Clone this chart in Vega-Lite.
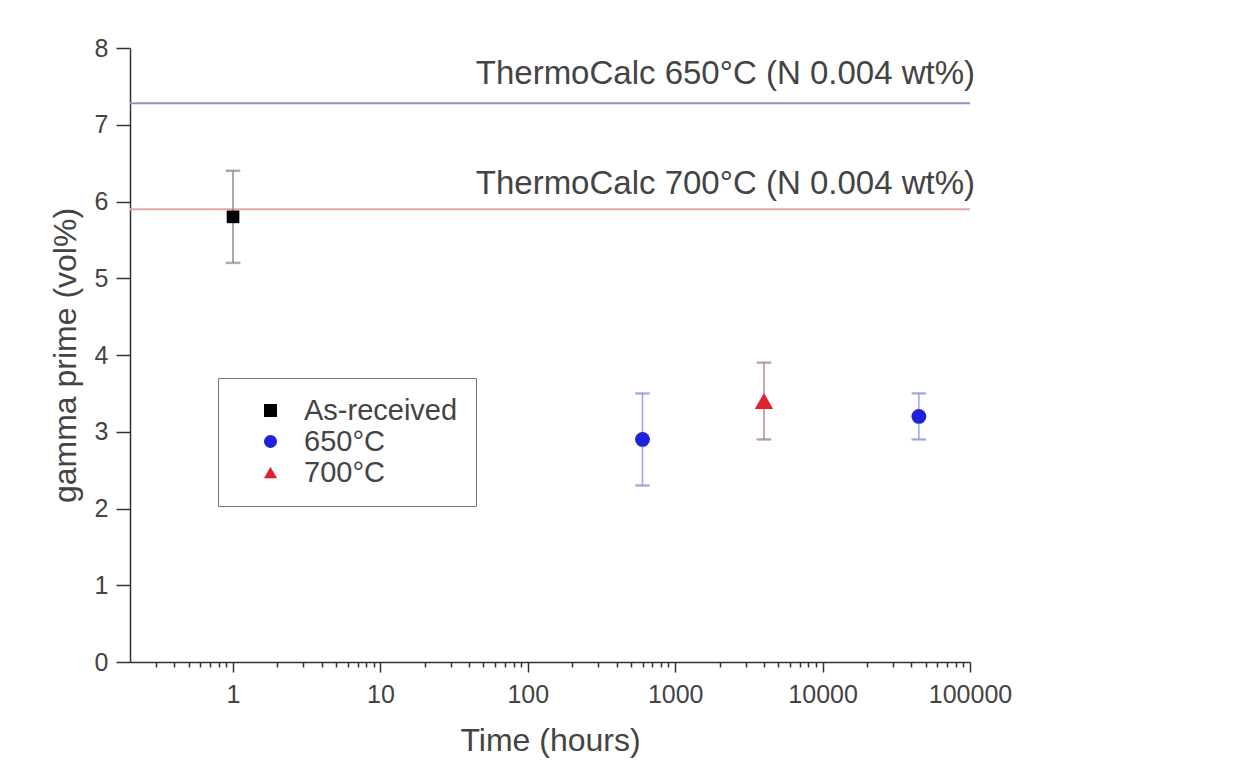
{
  "$schema": "https://vega.github.io/schema/vega-lite/v6.json",
  "width": 840,
  "height": 614,
  "autosize": {"type": "none"},
  "padding": {"left": 130, "top": 48, "right": 267, "bottom": 118},
  "background": "white",
  "config": {
    "view": {"stroke": null},
    "font": "Liberation Sans",
    "axis": {
      "domainColor": "#333333",
      "domainWidth": 1.5,
      "tickColor": "#333333",
      "tickWidth": 1.5,
      "labelColor": "#444444",
      "titleColor": "#444444",
      "titleFontWeight": "normal",
      "labelFont": "Liberation Sans",
      "titleFont": "Liberation Sans",
      "grid": false
    }
  },
  "datasets": {
    "points": [
      {"series": "As-received", "time": 1, "gp": 5.8, "lo": 5.2, "hi": 6.4},
      {"series": "650°C", "time": 600, "gp": 2.9, "lo": 2.3, "hi": 3.5},
      {"series": "700°C", "time": 4000, "gp": 3.4, "lo": 2.9, "hi": 3.9},
      {"series": "650°C", "time": 45000, "gp": 3.2, "lo": 2.9, "hi": 3.5}
    ],
    "refs": [
      {"name": "ThermoCalc 650°C (N 0.004 wt%)", "temp": "650", "gp": 7.28},
      {"name": "ThermoCalc 700°C (N 0.004 wt%)", "temp": "700", "gp": 5.9}
    ]
  },
  "layer": [
    {
      "data": {"name": "refs"},
      "mark": {"type": "rule", "strokeWidth": 2},
      "encoding": {
        "y": {"field": "gp", "type": "quantitative", "scale": {"domain": [0, 8], "nice": false}},
        "stroke": {"condition": {"test": "datum.temp === '650'", "value": "#8f93c4"}, "value": "#e2a9a9"}
      }
    },
    {
      "data": {"name": "refs"},
      "transform": [{"filter": "datum.temp === '650'"}],
      "mark": {"type": "text", "align": "right", "baseline": "alphabetic", "dx": 5, "dy": -19, "fontSize": 33, "color": "#444444", "font": "Liberation Sans"},
      "encoding": {
        "x": {"datum": 100000, "type": "quantitative"},
        "y": {"field": "gp", "type": "quantitative"},
        "text": {"field": "name"}
      }
    },
    {
      "data": {"name": "refs"},
      "transform": [{"filter": "datum.temp === '700'"}],
      "mark": {"type": "text", "align": "right", "baseline": "alphabetic", "dx": 5, "dy": -15, "fontSize": 33, "color": "#444444", "font": "Liberation Sans"},
      "encoding": {
        "x": {"datum": 100000, "type": "quantitative"},
        "y": {"field": "gp", "type": "quantitative"},
        "text": {"field": "name"}
      }
    },
    {
      "data": {"name": "points"},
      "mark": {"type": "rule", "strokeWidth": 1.5},
      "encoding": {
        "x": {"field": "time", "type": "quantitative"},
        "y": {"field": "lo", "type": "quantitative"},
        "y2": {"field": "hi"},
        "stroke": {"condition": [{"test": "datum.series === '650°C'", "value": "#a2a2e6"}, {"test": "datum.series === '700°C'", "value": "#b98c8c"}], "value": "#8c8c8c"}
      }
    },
    {
      "data": {"name": "points"},
      "mark": {"type": "tick", "orient": "horizontal", "size": 14, "thickness": 1.5},
      "encoding": {
        "x": {"field": "time", "type": "quantitative"},
        "y": {"field": "lo", "type": "quantitative"},
        "stroke": {"condition": [{"test": "datum.series === '650°C'", "value": "#a2a2e6"}, {"test": "datum.series === '700°C'", "value": "#b98c8c"}], "value": "#8c8c8c"}
      }
    },
    {
      "data": {"name": "points"},
      "mark": {"type": "tick", "orient": "horizontal", "size": 14, "thickness": 1.5},
      "encoding": {
        "x": {"field": "time", "type": "quantitative"},
        "y": {"field": "hi", "type": "quantitative"},
        "stroke": {"condition": [{"test": "datum.series === '650°C'", "value": "#a2a2e6"}, {"test": "datum.series === '700°C'", "value": "#b98c8c"}], "value": "#8c8c8c"}
      }
    },
    {
      "data": {"name": "points"},
      "mark": {"type": "point", "filled": true, "opacity": 1},
      "encoding": {
        "x": {
          "field": "time", "type": "quantitative",
          "scale": {"type": "log", "domain": [0.2, 100000], "nice": false},
          "axis": {
            "title": "Time (hours)",
            "titleFontSize": 32,
            "titlePadding": 18,
            "labelFontSize": 25,
            "labelPadding": 10,
            "labelOverlap": false,
            "labelBound": false,
            "labelFlush": false,
            "values": [0.3,0.4,0.5,0.6,0.7,0.8,0.9,1,2,3,4,5,6,7,8,9,10,20,30,40,50,60,70,80,90,100,200,300,400,500,600,700,800,900,1000,2000,3000,4000,5000,6000,7000,8000,9000,10000,20000,30000,40000,50000,60000,70000,80000,90000,100000],
            "labelExpr": "abs(log(datum.value)/LN10 - round(log(datum.value)/LN10)) < 0.001 ? format(datum.value, 'd') : ''",
            "tickSize": {"condition": {"test": "abs(log(datum.value)/LN10 - round(log(datum.value)/LN10)) < 0.001", "value": 10}, "value": 5}
          }
        },
        "y": {
          "field": "gp", "type": "quantitative",
          "axis": {
            "title": "gamma prime (vol%)",
            "titleFontSize": 32,
            "titlePadding": 12,
            "labelFontSize": 25,
            "labelPadding": 8,
            "values": [0,0.5,1,1.5,2,2.5,3,3.5,4,4.5,5,5.5,6,6.5,7,7.5,8],
            "labelExpr": "datum.value % 1 === 0 ? format(datum.value, 'd') : ''",
            "tickSize": {"condition": {"test": "datum.value % 1 === 0", "value": 14}, "value": 7}
          }
        },
        "size": {"condition": [{"test": "datum.series === '700°C'", "value": 340}, {"test": "datum.series === '650°C'", "value": 220}], "value": 160},
        "fill": {
          "field": "series", "type": "nominal",
          "scale": {"domain": ["As-received", "650°C", "700°C"], "range": ["#000000", "#1f22d9", "#e0222c"]},
          "legend": {
            "title": null,
            "orient": "none",
            "legendX": 88,
            "legendY": 330,
            "strokeColor": "#777777",
            "fillColor": "white",
            "padding": 18,
            "rowPadding": 1,
            "labelFontSize": 29,
            "labelLimit": 400,
            "labelColor": "#444444",
            "labelFont": "Liberation Sans",
            "symbolSize": 170,
            "symbolOffset": 20,
            "labelOffset": 19
          }
        },
        "shape": {
          "field": "series", "type": "nominal",
          "scale": {"domain": ["As-received", "650°C", "700°C"], "range": ["square", "circle", "triangle-up"]},
          "legend": {
            "title": null,
            "orient": "none",
            "legendX": 88,
            "legendY": 330,
            "strokeColor": "#777777",
            "fillColor": "white",
            "padding": 18,
            "rowPadding": 1,
            "labelFontSize": 29,
            "labelLimit": 400,
            "labelColor": "#444444",
            "labelFont": "Liberation Sans",
            "symbolSize": 170,
            "symbolOffset": 20,
            "labelOffset": 19
          }
        }
      }
    }
  ]
}
